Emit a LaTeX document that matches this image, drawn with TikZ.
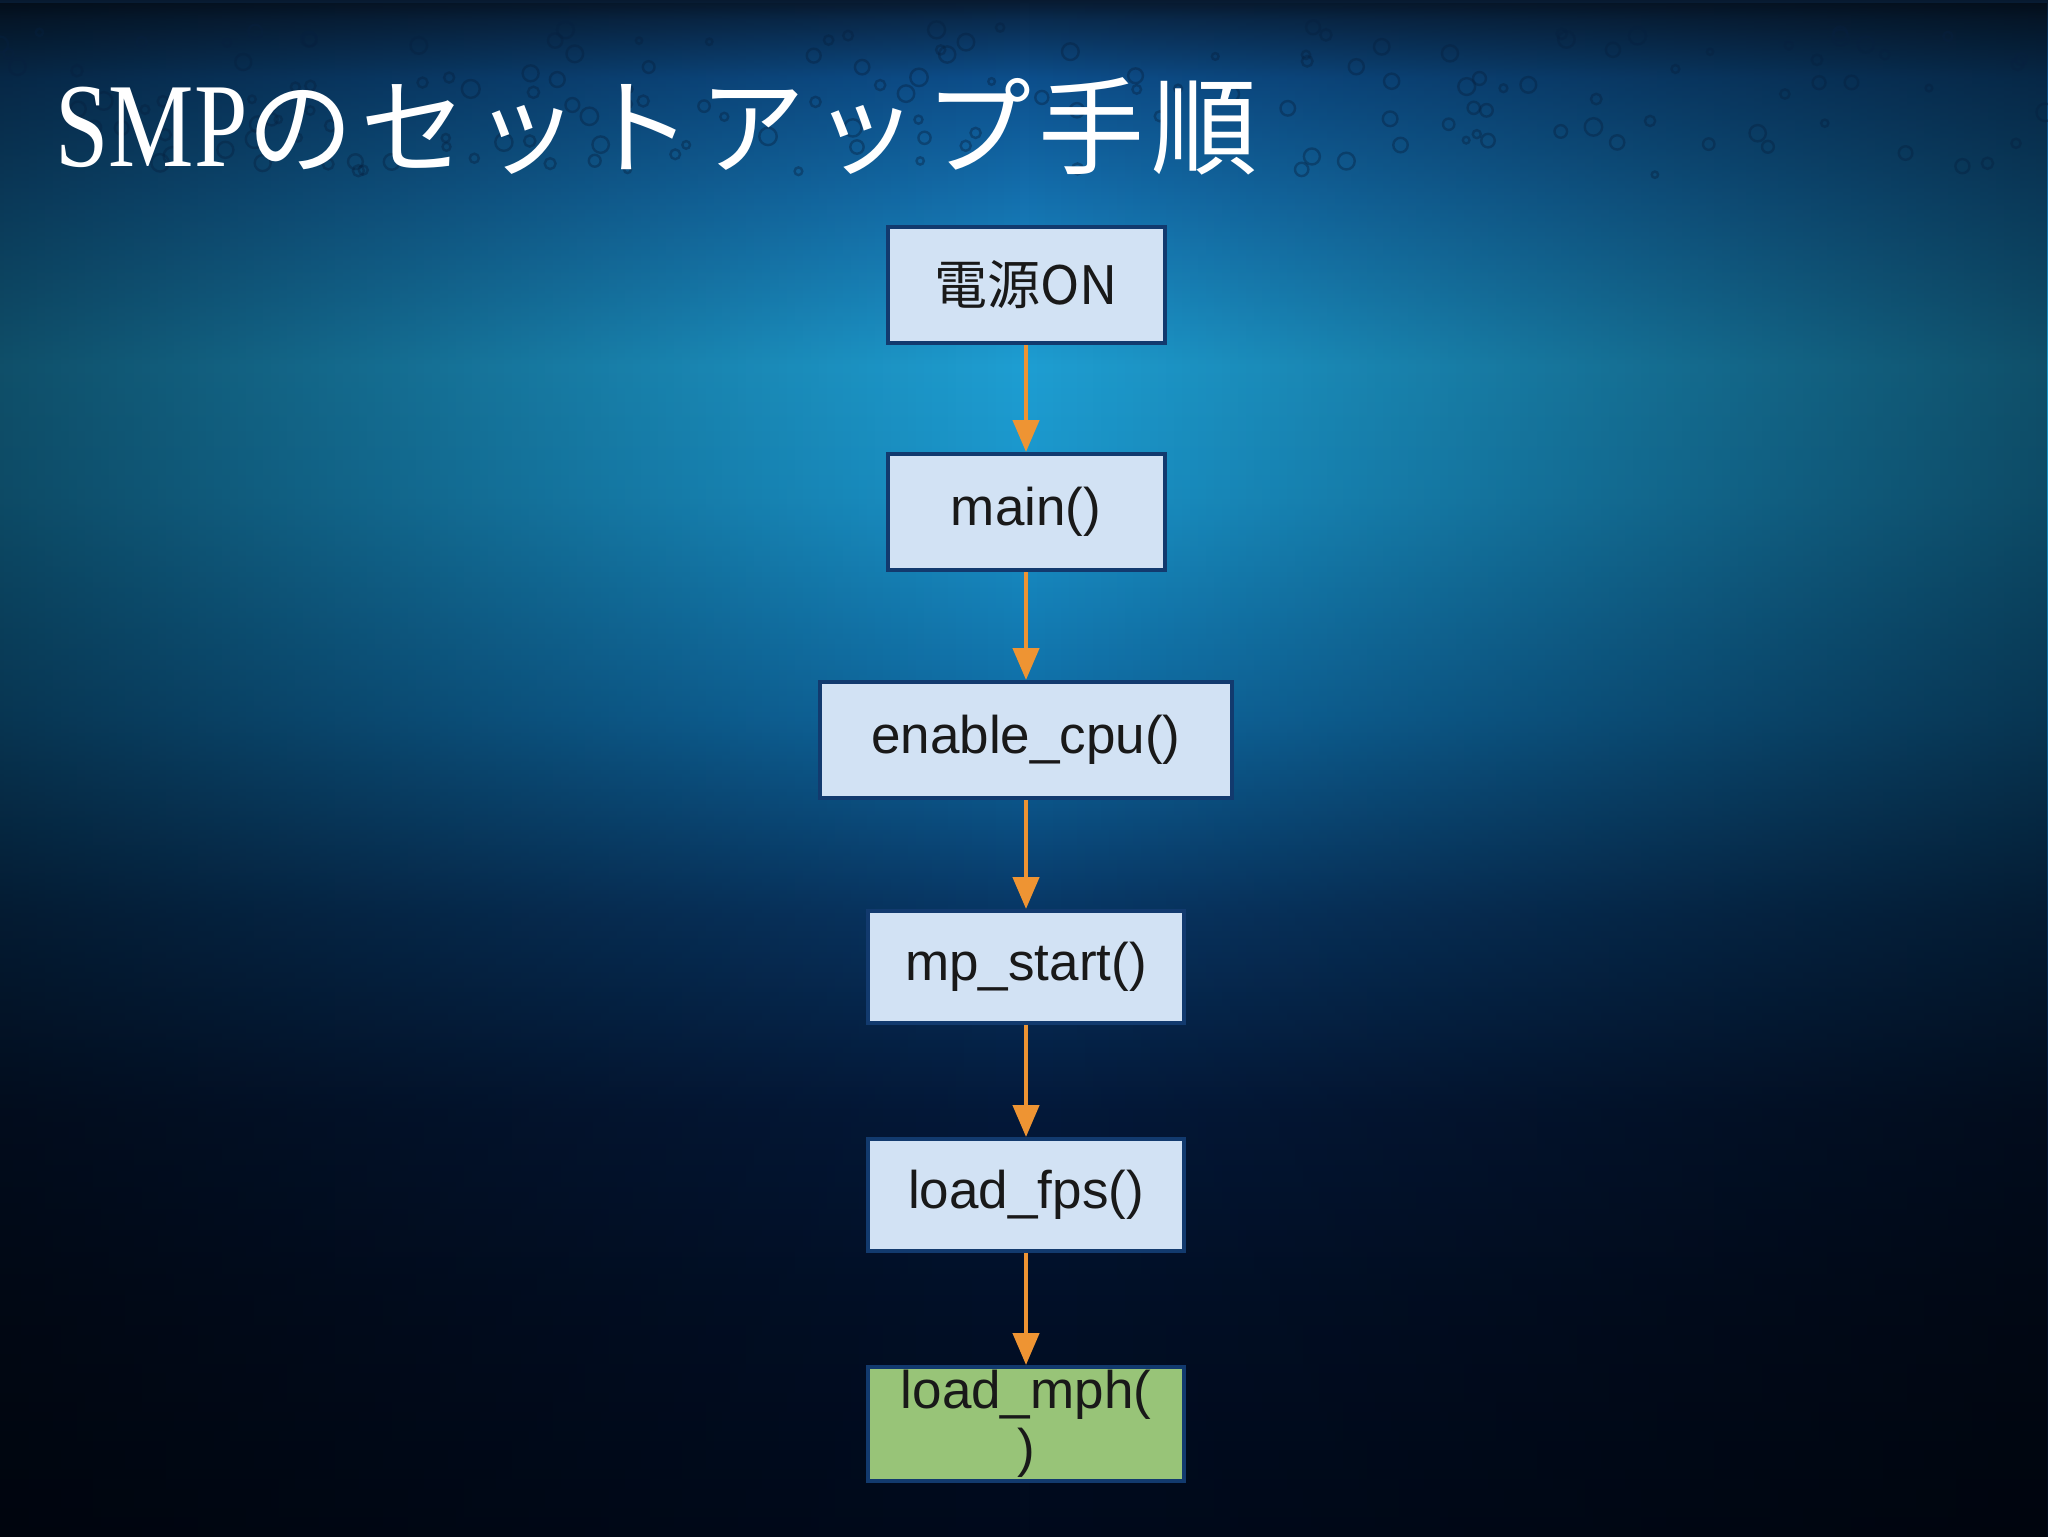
\documentclass[tikz,border=0pt]{standalone}
\usepackage{fontspec}
\setmainfont{Liberation Sans}
\newfontfamily\jpfont{Noto Sans CJK JP}
\newfontfamily\titleserif[FakeStretch=0.8]{Liberation Serif}
\usetikzlibrary{arrows.meta,fadings}
\definecolor{bgA}{HTML}{010A1C}
\definecolor{bgB}{HTML}{021028}
\definecolor{bgC}{HTML}{04193A}
\definecolor{bgD}{HTML}{083664}
\definecolor{bgE}{HTML}{0F6AA3}
\definecolor{bgF}{HTML}{1A95CB}
\definecolor{bgG}{HTML}{1E9ED2}
\definecolor{bgH}{HTML}{1470AE}
\definecolor{bgI}{HTML}{0D4F8C}
\definecolor{bgJ}{HTML}{0A2C50}
\definecolor{bgK}{HTML}{081A30}
\definecolor{boxfill}{HTML}{D2E2F4}
\definecolor{boxgreen}{HTML}{98C478}
\definecolor{boxborder}{HTML}{123A6E}
\definecolor{arrowc}{HTML}{EE9433}
\definecolor{bubble}{HTML}{06203F}
\pgfdeclareverticalshading{bgshade}{100bp}{%
 color(0bp)=(bgA); color(25bp)=(bgA); color(32.5bp)=(bgB); color(38.85bp)=(bgC); color(45.25bp)=(bgD);
 color(51.6bp)=(bgE); color(58.85bp)=(bgF); color(63.1bp)=(bgG); color(68.6bp)=(bgH);
 color(72.45bp)=(bgI); color(74.35bp)=(bgJ); color(75bp)=(bgK); color(100bp)=(bgK)}
\tikzfading[name=sidefade, left color=transparent!50, right color=transparent!50, middle color=transparent!100]
\tikzset{
  stepbox/.style={draw=boxborder, line width=2pt, fill=boxfill, inner sep=0pt,
    minimum height=58pt, text=black!90, font=\fontsize{26.5}{29}\selectfont, align=center},
  flow/.style={draw=arrowc, line width=2.2pt, -{Triangle[width=13pt,length=16pt]}}
}
\newcommand{\jk}{\kern3.5pt}
\begin{document}
\begin{tikzpicture}[x=0.5pt,y=-0.5pt]
\useasboundingbox (0,0) rectangle (2048,1536);
\shade[shading=bgshade] (0pt,0pt) rectangle (1024pt,-768pt);
\fill[black, path fading=sidefade] (0pt,0pt) rectangle (1024pt,-768pt);
% bubble texture near top
\pgfmathsetseed{7}
\foreach \i in {1,...,160}{
  \pgfmathsetmacro{\bx}{2048*rnd}
  \pgfmathsetmacro{\by}{25+150*rnd}
  \pgfmathsetmacro{\br}{3+6*rnd}
  \draw[bubble, line width=1.2pt, opacity=0.4] (\bx,\by) circle[radius=\br];
}
% title
\node[anchor=base west, inner sep=0pt, text=white] (title) at (55,166)
  {{\titleserif\fontsize{60}{66}\selectfont SMP}{\jpfont\fontsize{53}{58}\selectfont の\jk セ\jk ッ\jk ト\jk ア\jk ッ\jk プ\jk 手\jk 順}};
% boxes
\node[stepbox, minimum width=138.5pt] (n1) at (1026,285) {{\jpfont 電源ON}};
\node[stepbox, minimum width=138.5pt] (n2) at (1026,512) {main()};
\node[stepbox, minimum width=206pt] (n3) at (1026,740) {enable\_cpu()};
\node[stepbox, minimum width=158pt, minimum height=56pt] (n4) at (1026,967) {mp\_start()};
\node[stepbox, minimum width=158pt, minimum height=56pt] (n5) at (1026,1195) {load\_fps()};
\node[stepbox, fill=boxgreen, minimum width=158pt, minimum height=57pt] (n6) at (1026,1424) {load\_mph(\\)};
% connectors
\draw[flow] (n1.south) -- (n2.north);
\draw[flow] (n2.south) -- (n3.north);
\draw[flow] (n3.south) -- (n4.north);
\draw[flow] (n4.south) -- (n5.north);
\draw[flow] (n5.south) -- (n6.north);
\end{tikzpicture}
\end{document}
